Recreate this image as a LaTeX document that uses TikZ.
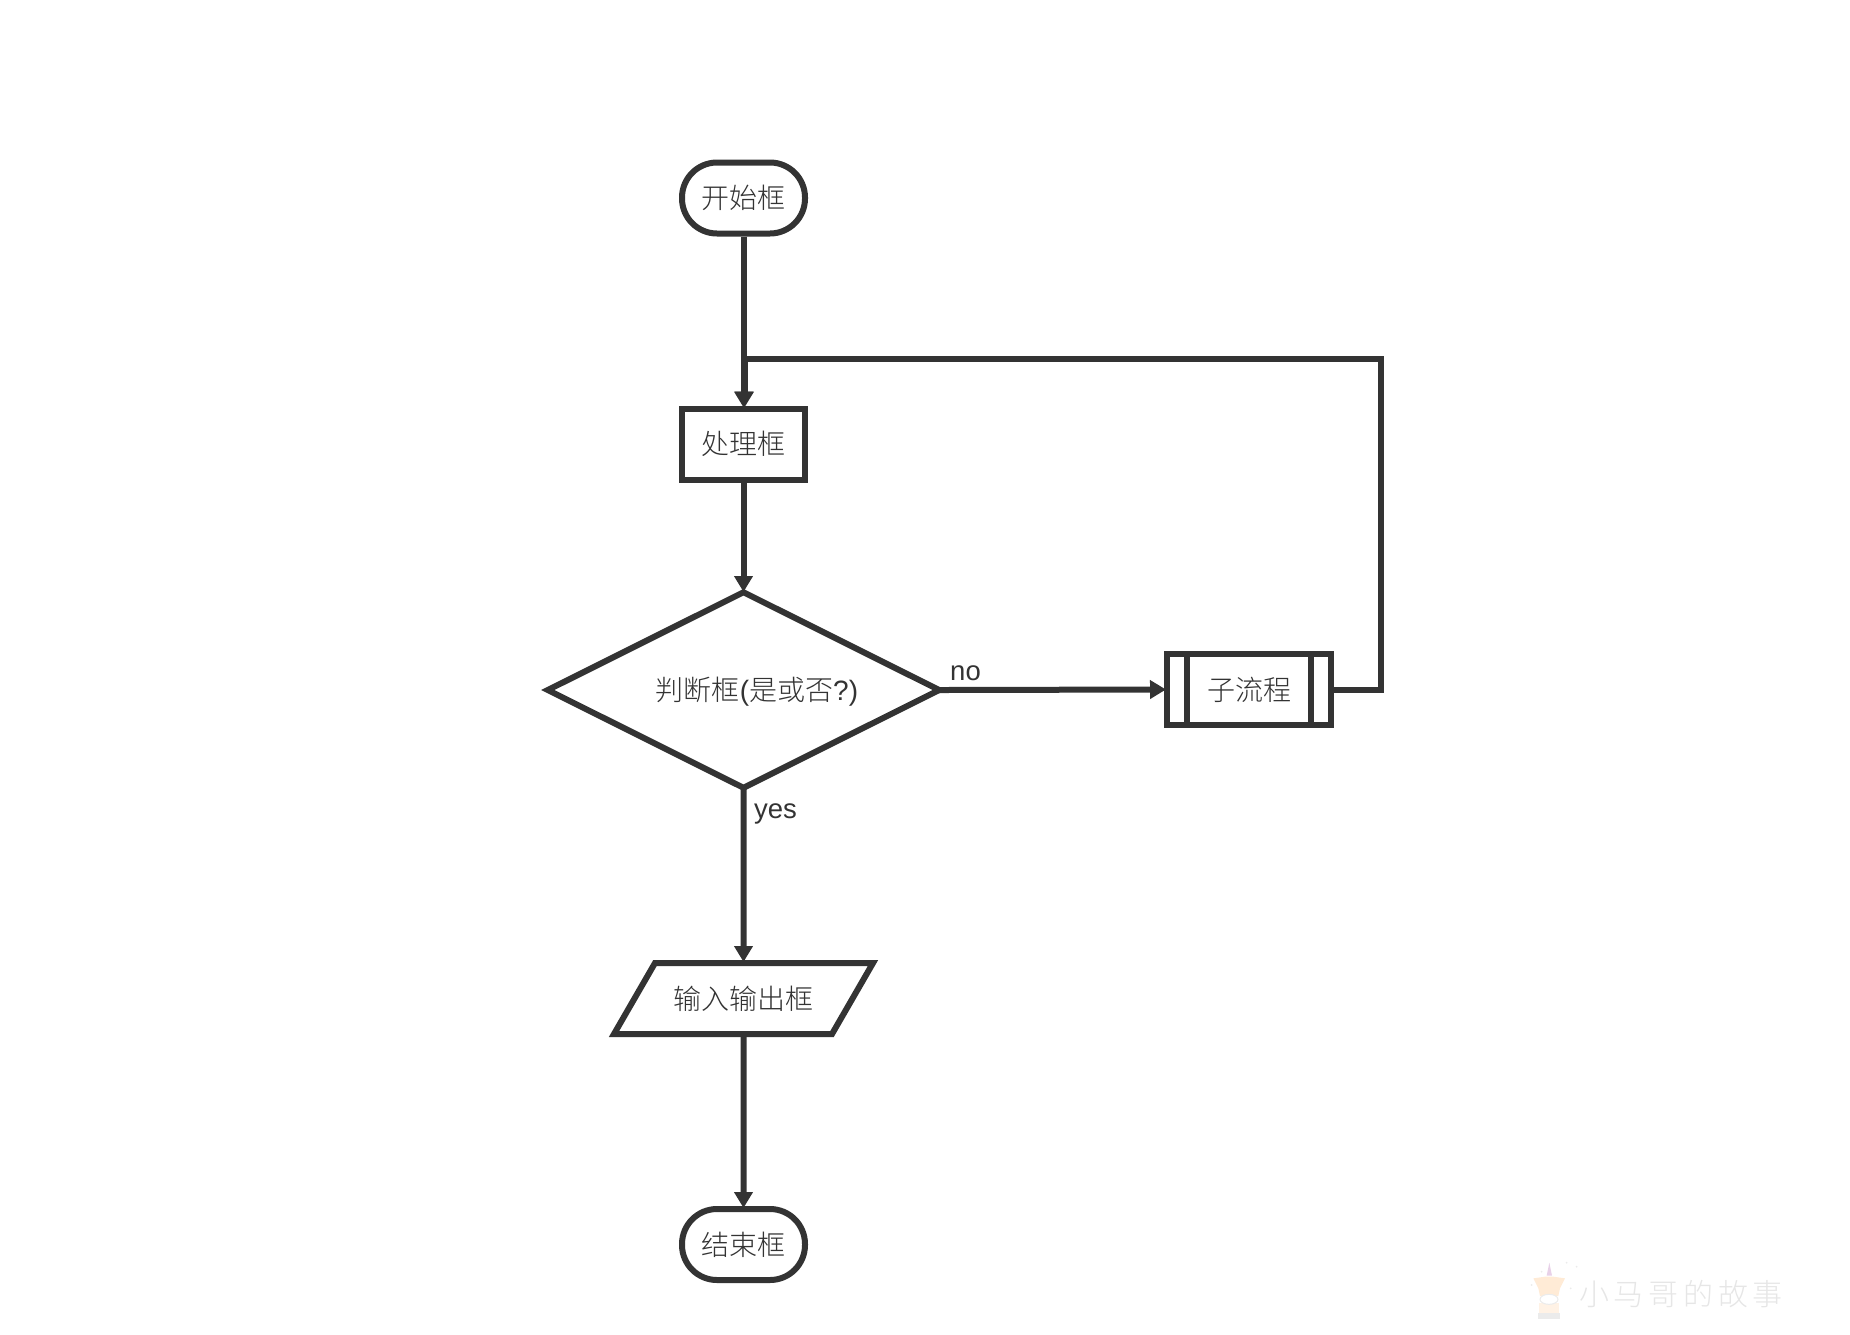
\documentclass[tikz,border=0pt]{standalone}
\usepackage{fontspec}
\usepackage{tikz}
\usetikzlibrary{arrows.meta,shapes.geometric}

\setmainfont{Liberation Sans}
\newfontfamily\cjk{Noto Sans CJK SC Light}

\definecolor{linegray}{HTML}{333333}
\definecolor{wmgray}{HTML}{E6E6E6}

\tikzset{
	flowbox/.style={draw=linegray, line width=6pt, fill=white, text=linegray, inner sep=0pt, text height=24pt, text depth=2.8pt, font=\fontsize{28}{33}\selectfont\cjk},
	procbox/.style={flowbox, minimum width=123pt, minimum height=71pt},
	termbox/.style={procbox, rounded corners=35pt},
	flowline/.style={draw=linegray, line width=6pt, shorten >=-2pt, -{Triangle[length=16pt,width=18pt]}},
	flowlabel/.style={text=linegray, inner sep=0pt, font=\fontsize{27.5}{33}\selectfont},
}

\begin{document}
\begin{tikzpicture}[x=1pt, y=-1pt]
	\useasboundingbox (0,0) rectangle (1850,1334);

	\node[termbox] (startbox) at (743.5,198) {开始框};
	\node[procbox] (procbox) at (743.5,444) {处理框};
	\node[flowbox, diamond, aspect=2, minimum width=394pt, minimum height=198pt] (judgebox) at (743.5,690) {\hspace{27pt}判断框{\fontspec{Liberation Sans}(}是或否{\fontspec{Liberation Sans}?)}};
	\node[flowbox, trapezium, trapezium left angle=60, trapezium right angle=120, trapezium stretches body=true, inner ysep=22.1pt, minimum width=259pt] (iobox) at (743.5,998.5) {输入输出框};
	\node[termbox] (endbox) at (743.5,1244.5) {结束框};
	\node[flowbox, minimum width=164pt, minimum height=71pt] (subbox) at (1249,689.5) {子流程};

	\draw[draw=linegray, line width=6pt] ([xshift=23pt]subbox.north west) -- ([xshift=23pt]subbox.south west);
	\draw[draw=linegray, line width=6pt] ([xshift=-23pt]subbox.north east) -- ([xshift=-23pt]subbox.south east);

	\draw[flowline] (startbox) -- (procbox);
	\draw[flowline, shorten >=-4pt] (procbox) -- (judgebox);
	\draw[flowline, shorten <=-5pt] (judgebox) -- (iobox);
	\draw[flowline] (iobox) -- (endbox);
	\draw[flowline, shorten <=-8pt] (judgebox.east) -- (subbox.west);

	\coordinate (backcorner) at (1381,359);
	\coordinate (backjoin) at (744.5,359);
	\draw[flowline] (subbox.east) -| (backcorner) -- (backjoin) -- ([xshift=1pt]procbox.north);

	\node[flowlabel, anchor=base west] (nolabel) at (950,680) {no};
	\node[flowlabel, anchor=base west] (yeslabel) at (754,818) {yes};

	% watermark
	\node[text=wmgray, inner sep=0pt, anchor=center, font=\fontsize{30}{33}\selectfont\cjk] (wmtext) at (1681,1294) {小\hspace{4.7pt}马\hspace{4.7pt}哥\hspace{4.7pt}的\hspace{4.7pt}故\hspace{4.7pt}事};
	\begin{scope}[shift={(1530,1260)}, x=0.3333pt, y=-0.3333pt]
		\fill[color=black!8] (24,158) rectangle (90,178);
		\fill[color=orange!10] (28,128) rectangle (86,158);
		\fill[color=orange!16] (10,55) -- (45,50) -- (70,50) -- (105,55) -- (90,85) -- (85,108) -- (30,108) -- (25,85) -- cycle;
		\filldraw[fill=white, draw=black!8, line width=1pt] (57,118) ellipse (27 and 15);
		\fill[color=violet!18] (58,8) -- (66,47) -- (50,47) -- cycle;
		\foreach \sx/\sy in {5/75, 35/35, 110/8, 140/20, 122/85}
			\fill[color=black!8] (\sx,\sy) circle (3);
	\end{scope}
\end{tikzpicture}
\end{document}
